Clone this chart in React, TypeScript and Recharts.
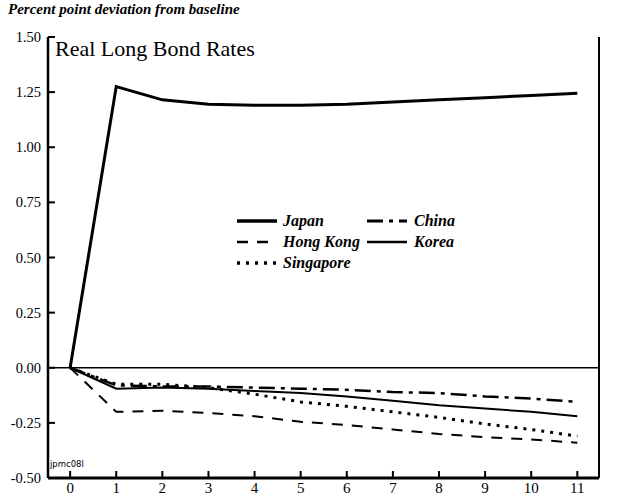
import React from 'react';
import { LineChart, Line, XAxis, YAxis, ReferenceLine } from 'recharts';

const periods = [0, 1, 2, 3, 4, 5, 6, 7, 8, 9, 10, 11];
const japan = [0, 1.275, 1.215, 1.195, 1.19, 1.19, 1.195, 1.205, 1.215, 1.225, 1.235, 1.245];
const hongKong = [0, -0.2, -0.195, -0.205, -0.22, -0.245, -0.26, -0.28, -0.3, -0.315, -0.325, -0.34];
const singapore = [0, -0.075, -0.075, -0.09, -0.12, -0.155, -0.175, -0.2, -0.225, -0.255, -0.28, -0.31];
const china = [0, -0.08, -0.085, -0.085, -0.09, -0.095, -0.1, -0.11, -0.115, -0.13, -0.14, -0.155];
const korea = [0, -0.095, -0.09, -0.095, -0.105, -0.115, -0.13, -0.15, -0.17, -0.185, -0.2, -0.22];
const yTicks = [-0.5, -0.25, 0, 0.25, 0.5, 0.75, 1.0, 1.25, 1.5];
const xTicks = periods;

const data = periods.map((t, i) => ({
  t,
  japan: japan[i],
  hongKong: hongKong[i],
  singapore: singapore[i],
  china: china[i],
  korea: korea[i],
}));

const FONT = "'Liberation Serif', 'DejaVu Serif', serif";

const series = [
  { key: 'japan', name: 'Japan', width: 3, dash: undefined as string | undefined },
  { key: 'hongKong', name: 'Hong Kong', width: 2, dash: '11 9' },
  { key: 'singapore', name: 'Singapore', width: 3, dash: '3 6' },
  { key: 'china', name: 'China', width: 2.5, dash: '16 6 4 6' },
  { key: 'korea', name: 'Korea', width: 2, dash: undefined as string | undefined },
];

const LeftTick = (props: any) => {
  const { x, y, payload } = props;
  return (
    <g>
      <line x1={x} x2={x + 7} y1={y} y2={y} stroke="#000" strokeWidth={2} />
      <text x={x - 7} y={y + 5} textAnchor="end" fontFamily={FONT} fontSize={14.5} fill="#000">
        {payload.value.toFixed(2)}
      </text>
    </g>
  );
};

const RightTick = (props: any) => {
  const { x, y, payload } = props;
  return (
    <g>
      <line x1={x} x2={x - 6} y1={y} y2={y} stroke="#000" strokeWidth={2} />
      <text x={x + 3} y={y + 5} textAnchor="start" fontFamily={FONT} fontSize={14.5} fill="#000">
        {payload.value.toFixed(2)}
      </text>
    </g>
  );
};

const BottomTick = (props: any) => {
  const { x, y, payload } = props;
  return (
    <g>
      <line x1={x} x2={x} y1={y} y2={y - 7} stroke="#000" strokeWidth={2} />
      <text x={x} y={y + 15} textAnchor="middle" fontFamily={FONT} fontSize={15} fill="#000">
        {payload.value}
      </text>
    </g>
  );
};

const LegendSample = ({ s }: { s: (typeof series)[number] }) => (
  <svg width={40} height={10} style={{ verticalAlign: 'middle' }}>
    <line x1={0} x2={40} y1={5} y2={5} stroke="#000" strokeWidth={s.width + 0.5} strokeDasharray={s.dash} />
  </svg>
);

const LegendBox = () => {
  const rows: [string, string | null][] = [
    ['japan', 'china'],
    ['hongKong', 'korea'],
    ['singapore', null],
  ];
  const find = (k: string) => series.find((s) => s.key === k)!;
  return (
    <div
      style={{
        position: 'absolute',
        left: 237,
        top: 210,
        zIndex: 2,
        fontFamily: FONT,
        fontStyle: 'italic',
        fontWeight: 'bold',
        fontSize: 16,
        lineHeight: '21px',
      }}
    >
      {rows.map(([a, b]) => (
        <div key={a} style={{ display: 'flex', height: 21, alignItems: 'center' }}>
          <div style={{ width: 130, display: 'flex', alignItems: 'center' }}>
            <LegendSample s={find(a)} />
            <span style={{ marginLeft: 6 }}>{find(a).name}</span>
          </div>
          {b && (
            <div style={{ display: 'flex', alignItems: 'center' }}>
              <LegendSample s={find(b)} />
              <span style={{ marginLeft: 7 }}>{find(b).name}</span>
            </div>
          )}
        </div>
      ))}
    </div>
  );
};

export default function App() {
  return (
    <div style={{ position: 'absolute', left: 0, top: 0, width: 624, height: 496, background: '#fff' }}>
      <div
        style={{
          position: 'absolute',
          left: 8,
          top: 1,
          fontFamily: FONT,
          fontStyle: 'italic',
          fontWeight: 'bold',
          fontSize: 15,
          whiteSpace: 'nowrap',
        }}
      >
        Percent point deviation from baseline
      </div>
      <div
        style={{
          position: 'absolute',
          left: 55,
          top: 36,
          fontFamily: FONT,
          fontSize: 22,
          whiteSpace: 'nowrap',
          zIndex: 2,
        }}
      >
        Real Long Bond Rates
      </div>
      <div
        style={{
          position: 'absolute',
          left: 50,
          top: 459,
          fontFamily: "'DejaVu Sans', sans-serif",
          fontSize: 8.5,
          whiteSpace: 'nowrap',
          zIndex: 2,
        }}
      >
        jpmc08l
      </div>
      <LegendBox />
      <LineChart width={624} height={496} data={data} margin={{ top: 37, right: 0, bottom: 0, left: 0 }}>
        <XAxis
          dataKey="t"
          type="number"
          domain={[-0.48, 11.47]}
          ticks={xTicks}
          height={18}
          tickSize={0}
          tickMargin={0}
          tick={<BottomTick />}
          axisLine={{ stroke: '#000', strokeWidth: 3 }}
          tickLine={false}
          interval={0}
        />
        <XAxis
          xAxisId="top"
          orientation="top"
          dataKey="t"
          type="number"
          domain={[-0.48, 11.47]}
          height={0}
          tick={false}
          tickLine={false}
          axisLine={{ stroke: '#000', strokeWidth: 1.5 }}
        />
        <YAxis
          yAxisId="left"
          domain={[-0.5, 1.5]}
          ticks={yTicks}
          width={48}
          tickSize={0}
          tickMargin={0}
          tick={<LeftTick />}
          tickLine={false}
          axisLine={{ stroke: '#000', strokeWidth: 2.5 }}
          interval={0}
        />
        <YAxis
          yAxisId="right"
          orientation="right"
          domain={[-0.5, 1.5]}
          ticks={yTicks}
          width={25}
          tickSize={0}
          tickMargin={0}
          tick={<RightTick />}
          tickLine={false}
          axisLine={{ stroke: '#000', strokeWidth: 2 }}
          interval={0}
        />
        <ReferenceLine yAxisId="left" y={0} stroke="#000" strokeWidth={1.5} />
        {series.map((s) => (
          <Line
            key={s.key}
            yAxisId="left"
            dataKey={s.key}
            name={s.name}
            stroke="#000"
            strokeWidth={s.width}
            strokeDasharray={s.dash}
            dot={false}
            activeDot={false}
            isAnimationActive={false}
            type="linear"
          />
        ))}
      </LineChart>
    </div>
  );
}
